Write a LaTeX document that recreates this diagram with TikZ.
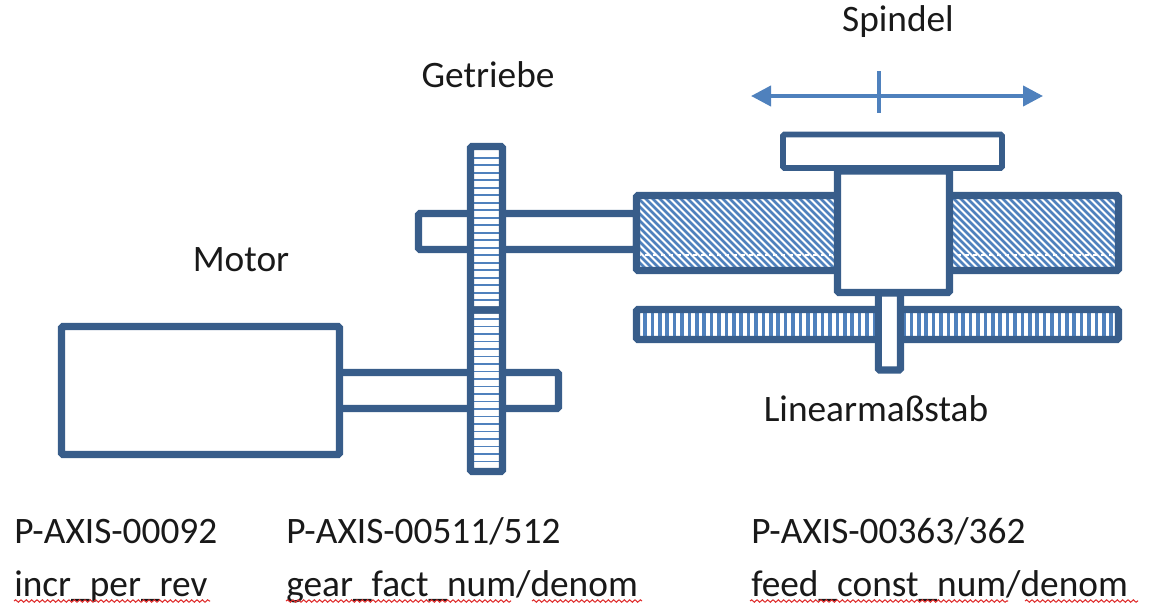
\documentclass[tikz,border=0pt]{standalone}
\usepackage{fontspec}
\setmainfont{Carlito}
\usetikzlibrary{arrows.meta,positioning,decorations.pathmorphing}
\definecolor{OutlineBlue}{HTML}{385D8A}
\definecolor{StripeBlue}{HTML}{4F81BD}
\definecolor{WavyRed}{HTML}{E03030}
\begin{document}
\begin{tikzpicture}[
x=0.75pt,y=-0.75pt,
part/.style={draw=OutlineBlue,line width=5.3pt,fill=white,rounded corners=1pt},
plate/.style={draw=OutlineBlue,line width=4.2pt,fill=white,rounded corners=1pt},
frame/.style={draw=OutlineBlue,line width=5.3pt,rounded corners=1pt},
stripe/.style={draw=StripeBlue,line width=1.2pt},
bar/.style={draw=StripeBlue,line width=2.6pt},
hatch/.style={draw=StripeBlue,line width=1.9pt},
move/.style={draw=StripeBlue,line width=3pt},
lbl/.style={font=\fontsize{28}{33}\selectfont,inner sep=0pt,text=black!90},
param/.style={lbl,anchor=base west},
wavy/.style={draw=WavyRed,line width=0.8pt,decorate,decoration={snake,amplitude=0.9pt,segment length=4pt}}
]
\useasboundingbox (0,0) rectangle (1152,604);
% shafts
\draw[part] (418.5,213.5) rectangle (636.5,249.5);
\draw[part] (336,372.5) rectangle (558.5,408.5);
% motor
\draw[part] (61.5,326.5) rectangle (339.5,454.5);
% gear wheels
\fill[white] (470.5,146.5) rectangle (502.5,471.5);
\foreach \y in {157.7,165.2,...,306} {\draw[stripe] (470.5,\y) -- (502.5,\y);}
\foreach \y in {319,326.5,...,468} {\draw[stripe] (470.5,\y) -- (502.5,\y);}
\draw[frame] (470.5,146.5) rectangle (502.5,310);
\draw[frame] (470.5,310) rectangle (502.5,471.5);
% spindle thread
\begin{scope}
\clip (636.5,195.5) rectangle (1118.5,270.5);
\foreach \x in {560,567,...,1120} {\draw[hatch] (\x,190) -- ++(85,85);}
\draw[white,line width=0.8pt,dashed] (636.5,255) -- (1118.5,255);
\end{scope}
\draw[frame] (636.5,195.5) rectangle (1118.5,270.5);
% linear scale
\foreach \x in {645,652.4,...,1114} {\draw[bar] (\x,309.5) -- (\x,339.5);}
\draw[frame] (636.5,309.5) rectangle (1118.5,339.5);
% carriage
\draw[plate] (783,134.5) rectangle (1002,168);
\draw[part] (837.5,171) rectangle (949.5,292.5);
\draw[part] (878.3,293) rectangle (900.5,370);
% motion arrows
\coordinate (tl) at (879,71);
\coordinate (bl) at (879,113);
\coordinate (al) at (751,96);
\coordinate (ar) at (1043,96);
\draw[move,{Triangle[length=15pt,width=15pt]}-{Triangle[length=15pt,width=15pt]}] (al) -- (ar);
\draw[move] (tl) -- (bl);
% labels
\node[lbl] (spindel) at (898,22) {Spindel};
\node[lbl] (getriebe) at (488,75) {Getriebe};
\node[lbl] (motor) at (241,260) {Motor};
\node[lbl] (mass) at (876,409) {Linearmaßstab};
\node[param] (axa) at (14,543) {P-AXIS-00092};
\node[param] (axb) at (286,543) {P-AXIS-00511/512};
\node[param] (axc) at (751,543) {P-AXIS-00363/362};
\node[param] (vara) at (14,596) {incr\_per\_rev};
\node[param] (varb) at (286,596) {gear\_fact\_num/denom};
\node[param] (varc) at (751,596) {feed\_const\_num/denom};
\draw[wavy] (14,601) -- (210,601);
\draw[wavy] (286,601) -- (511,601);
\draw[wavy] (532,601) -- (642,601);
\draw[wavy] (750,601) -- (1008,601);
\draw[wavy] (1025,601) -- (1138,601);
\end{tikzpicture}
\end{document}
